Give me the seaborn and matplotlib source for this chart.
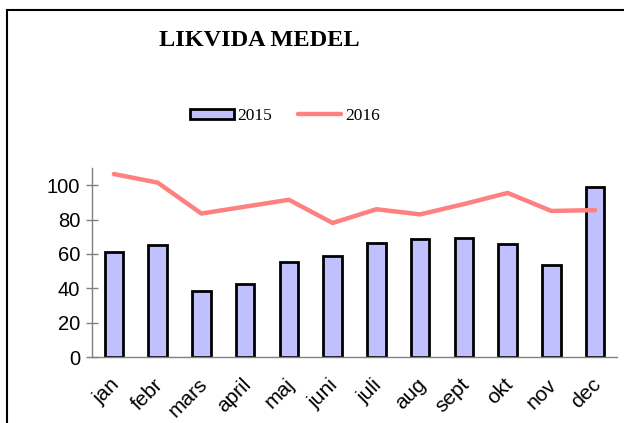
import matplotlib
matplotlib.use("Agg")
import matplotlib.pyplot as plt
import matplotlib.transforms as mtransforms
import pandas as pd
import seaborn as sns
from matplotlib.patches import Patch, Rectangle
from matplotlib.lines import Line2D

# Data
months = ['jan', 'febr', 'mars', 'april', 'maj', 'juni', 'juli',
          'aug', 'sept', 'okt', 'nov', 'dec']
values_2015 = [61, 65, 38.5, 42.5, 55.5, 59, 66.5, 68.5, 69, 66, 53.5, 99]
values_2016 = [106.5, 101.5, 83.5, 87.5, 91.5, 78, 86, 83, 89, 95.5, 85, 85.5]

df = pd.DataFrame({'month': months, '2015': values_2015, '2016': values_2016})

sns.set_style('white')
plt.rcParams['font.family'] = ['Liberation Sans', 'DejaVu Sans']
plt.rcParams['text.color'] = 'black'

bar_color = '#C0C0FF'
line_color = '#FF8080'
axis_gray = '#808080'

fig = plt.figure(figsize=(6.24, 4.23), dpi=100)
ax = fig.add_axes([92 / 624, 1 - 357 / 423, (617 - 92) / 624, (357 - 168) / 423])

sns.barplot(data=df, x='month', y='2015', color=bar_color, width=0.42,
            edgecolor='black', linewidth=2, saturation=1, ax=ax)
sns.lineplot(data=df, x='month', y='2016', color=line_color, linewidth=3.2,
             sort=False, ax=ax)

ax.set_xlim(-0.5, 11.5)
ax.set_ylim(0, 110)
ax.set_xlabel('')
ax.set_ylabel('')

# spines
for side in ['top', 'right']:
    ax.spines[side].set_visible(False)
for side in ['left', 'bottom']:
    ax.spines[side].set_color(axis_gray)
    ax.spines[side].set_linewidth(1)

# ticks: labels on categories, tick marks between categories
ax.set_yticks([0, 20, 40, 60, 80, 100])
ax.set_xticks(range(len(months)))
ax.set_xticklabels(months, rotation=45, ha='right', va='top', rotation_mode='anchor')
ax.set_xticks([i - 0.5 for i in range(len(months) + 1)], minor=True)
ax.tick_params(axis='x', which='major', length=0, pad=13, labelsize=15, labelcolor='black')
ax.tick_params(axis='x', which='minor', direction='inout', length=9, color=axis_gray, width=1)
ax.tick_params(axis='y', direction='inout', length=9, color=axis_gray, width=1,
               labelsize=14.5, pad=4, left=True, labelcolor='black')

# shift month labels a little to the left
shift = mtransforms.ScaledTranslation(-4 / 100, 0, fig.dpi_scale_trans)
for lbl in ax.get_xticklabels():
    lbl.set_transform(lbl.get_transform() + shift)

# title
fig.text(259 / 624, 1 - 41 / 423, 'LIKVIDA MEDEL', ha='center', va='center',
         fontsize=17.5, fontweight='bold', family='Liberation Serif', color='black')

# legend
handles = [Patch(facecolor=bar_color, edgecolor='black', linewidth=2),
           Line2D([0], [0], color=line_color, linewidth=3.2)]
fig.legend(handles, ['2015', '2016'], loc='center', bbox_to_anchor=(285 / 624, 1 - 116 / 423),
           ncol=2, frameon=False, prop={'family': 'Liberation Serif', 'size': 12.5},
           handlelength=2.5, handleheight=0.5, handletextpad=0.2, columnspacing=1.5)

# outer chart border
fig.patches.append(Rectangle((7 / 624, -0.1), 1.2, 1 - 10 / 423 + 0.1,
                             transform=fig.transFigure, fill=False,
                             edgecolor='black', linewidth=1.5))

fig.savefig('out.png', dpi=100)
